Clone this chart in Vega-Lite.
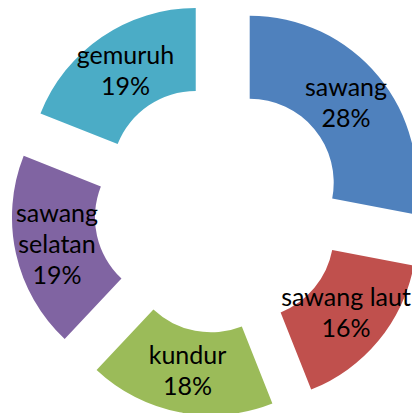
{
  "$schema": "https://vega.github.io/schema/vega-lite/v6.json",
  "width": 412,
  "height": 413,
  "autosize": {"type": "fit", "contains": "padding"},
  "padding": {"left": 24, "top": 5, "right": 0, "bottom": 0},
  "background": "white",
  "config": {"view": {"stroke": null}},
  "data": {
    "values": [
      {"name": "sawang", "share": 0.28},
      {"name": "sawang laut", "share": 0.16},
      {"name": "kundur", "share": 0.18},
      {"name": "sawang selatan", "share": 0.19},
      {"name": "gemuruh", "share": 0.19}
    ]
  },
  "transform": [
    {"window": [{"op": "row_number", "as": "i"}]}
  ],
  "encoding": {
    "theta": {"field": "share", "type": "quantitative", "stack": true},
    "order": {"field": "i", "type": "quantitative"}
  },
  "layer": [
    {
      "mark": {
        "type": "arc",
        "innerRadius": 84,
        "outerRadius": 167,
        "x": {"expr": "width/2 + 40.5*sin(scale('theta', (datum.share_start + datum.share_end)/2))"},
        "y": {"expr": "height/2 - 40.5*cos(scale('theta', (datum.share_start + datum.share_end)/2))"}
      },
      "encoding": {
        "color": {
          "field": "name",
          "type": "nominal",
          "scale": {
            "domain": ["sawang", "sawang laut", "kundur", "sawang selatan", "gemuruh"],
            "range": ["#4F81BD", "#C0504D", "#9BBB59", "#8064A2", "#4BACC6"]
          },
          "legend": null
        }
      }
    },
    {
      "mark": {
        "type": "text",
        "radius": 125,
        "font": "Lato",
        "fontSize": 25,
        "color": "#000000",
        "baseline": "middle",
        "align": "center",
        "lineHeight": 31,
        "lineBreak": {"expr": "datum.name == 'sawang selatan' ? ' ' : '\\n'"},
        "dy": {"expr": "datum.name == 'sawang selatan' ? -31 : -15.5"},
        "x": {"expr": "width/2 + 40.5*sin(scale('theta', (datum.share_start + datum.share_end)/2))"},
        "y": {"expr": "height/2 - 40.5*cos(scale('theta', (datum.share_start + datum.share_end)/2))"}
      },
      "encoding": {"text": {"field": "name", "type": "nominal"}}
    },
    {
      "mark": {
        "type": "text",
        "radius": 125,
        "font": "Lato",
        "fontSize": 25,
        "color": "#000000",
        "baseline": "middle",
        "align": "center",
        "dy": {"expr": "datum.name == 'sawang selatan' ? 31 : 15.5"},
        "x": {"expr": "width/2 + 40.5*sin(scale('theta', (datum.share_start + datum.share_end)/2))"},
        "y": {"expr": "height/2 - 40.5*cos(scale('theta', (datum.share_start + datum.share_end)/2))"}
      },
      "encoding": {"text": {"field": "share", "type": "quantitative", "format": ".0%"}}
    }
  ]
}
